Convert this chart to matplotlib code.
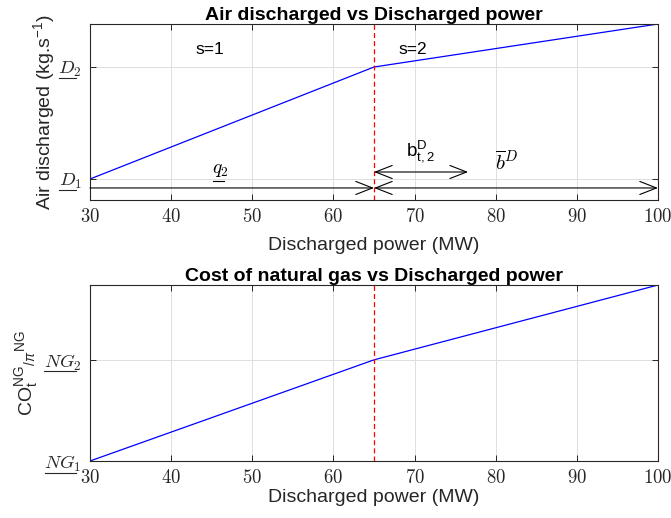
import matplotlib
matplotlib.use("Agg")
import matplotlib.pyplot as plt
from matplotlib.lines import Line2D

plt.rcParams['font.family'] = ['Liberation Sans', 'DejaVu Sans']
plt.rcParams['mathtext.fontset'] = 'custom'
plt.rcParams['mathtext.rm'] = 'Liberation Sans'
plt.rcParams['mathtext.it'] = 'Liberation Sans:italic'
plt.rcParams['mathtext.bf'] = 'Liberation Sans:bold'

# ---- data ----
power = [30, 65, 100]
air_discharged = [1.0, 2.0, 2.384]
ng_cost = [1.0, 2.0, 2.74]
breakpoint_power = 65
x_ticks = [30, 40, 50, 60, 70, 80, 90, 100]
air_ticks = [1.0, 2.0]
ng_ticks = [1.0, 2.0]
air_ylim = [0.8125, 2.384]
ng_ylim = [1.0, 2.74]
air_syms = [('D', '1'), ('D', '2')]
ng_syms = [('NG', '1'), ('NG', '2')]

fig = plt.figure(figsize=(6.71, 5.18), dpi=100)
W, H = 671, 518
ax1 = fig.add_axes([90 / W, 1 - 200 / H, 568 / W, 176 / H])
ax2 = fig.add_axes([90 / W, 1 - 461 / H, 568 / W, 176 / H])

axcol = '#262626'
for ax in (ax1, ax2):
    ax.set_xlim(30, 100)
    ax.set_xticks(x_ticks)
    ax.set_xticklabels(['$%d$' % v for v in x_ticks])
    ax.grid(True, color='#dedede', linewidth=0.7)
    ax.set_axisbelow(True)
    ax.tick_params(direction='in', top=True, right=True, length=4, width=0.7,
                   colors=axcol, labelsize=13.5, pad=6)
    for sp in ax.spines.values():
        sp.set_color(axcol)
        sp.set_linewidth(0.8)

ax1.set_xlabel('Discharged power (MW)', fontsize=14, color=axcol, labelpad=8)
ax2.set_xlabel('Discharged power (MW)', fontsize=14, color=axcol, labelpad=1.5)

# ---- top ----
ax1.plot(power, air_discharged, color='#0000ff', lw=0.9)
ax1.set_ylim(*air_ylim)
ax1.set_yticks(air_ticks)
ax1.set_yticklabels(['$%s_{%s}$' % s for s in air_syms])
ax1.axvline(breakpoint_power, color='#ff0000', ls=(0, (4, 2.5)), lw=0.9)
ax1.set_title('Air discharged vs Discharged power', fontsize=14, fontweight='bold', pad=3)
ax1.set_ylabel('Air discharged (kg.s$^{-1}$)', fontsize=14, color=axcol, labelpad=1)
ax1.text(44.8, 2.16, 's=1', fontsize=12.5, ha='center', va='center')
ax1.text(69.8, 2.16, 's=2', fontsize=12.5, ha='center', va='center')
q_text = ax1.text(46.1, 1.08, r'$q_2$', fontsize=14, ha='center', va='center',
                  math_fontfamily='cm')
ax1.text(70.7, 1.25, r'b$_{\mathregular{t,2}}^{\mathregular{D}}$', fontsize=13.5,
         ha='center', va='center')
ax1.text(81.4, 1.15, r'$\overline{b}^D$', fontsize=15, ha='center', va='center',
         math_fontfamily='cm')

apk = dict(color='black', lw=0.8, shrinkA=0, shrinkB=0, mutation_scale=10)
ax1.annotate('', xy=(65, 0.92), xytext=(30, 0.92),
             arrowprops=dict(arrowstyle='->,head_length=1.2,head_width=0.47', **apk))
ax1.annotate('', xy=(100, 0.92), xytext=(65, 0.92),
             arrowprops=dict(arrowstyle='<->,head_length=1.2,head_width=0.47', **apk))
ax1.annotate('', xy=(76.6, 1.0625), xytext=(65, 1.0625),
             arrowprops=dict(arrowstyle='<->,head_length=1.2,head_width=0.47', **apk))

# ---- bottom ----
ax2.plot(power, ng_cost, color='#0000ff', lw=0.9)
ax2.set_ylim(*ng_ylim)
ax2.set_yticks(ng_ticks)
ax2.set_yticklabels(['$%s_{%s}$' % s for s in ng_syms])
ax2.axvline(breakpoint_power, color='#ff0000', ls=(0, (4, 2.5)), lw=0.9)
ax2.set_title('Cost of natural gas vs Discharged power', fontsize=14, fontweight='bold', pad=3)
ax2.set_ylabel(r'$\mathregular{CO}_{\mathregular{t}}^{\mathregular{NG}}{}_{/\pi}{}^{\mathregular{NG}}$',
               fontsize=14, color=axcol, labelpad=3)

for ax in (ax1, ax2):
    for lab in ax.get_xticklabels() + ax.get_yticklabels():
        lab.set_math_fontfamily('cm')
        lab.set_color(axcol)

# ---- underlines for symbols (mathtext lacks \underline) ----
fig.canvas.draw()
renderer = fig.canvas.get_renderer()


def underline(txt, main):
    prop = txt.get_fontproperties()
    bb = txt.get_window_extent(renderer)
    _, _, d_full = renderer.get_text_width_height_descent(txt.get_text(), prop, ismath=True)
    w_main, _, d_main = renderer.get_text_width_height_descent('$%s$' % main, prop, ismath=True)
    base = bb.y0 + d_full - d_main - 2.0
    x0 = bb.x0 + 0.5
    fig.add_artist(Line2D([x0 / W, (x0 + w_main) / W], [base / H, base / H],
                          transform=fig.transFigure, color=txt.get_color(), lw=0.8))


for lab, s in zip(ax1.get_yticklabels(), air_syms):
    underline(lab, s[0])
for lab, s in zip(ax2.get_yticklabels(), ng_syms):
    underline(lab, s[0])
underline(q_text, 'q')

fig.savefig('out.png', dpi=100)
